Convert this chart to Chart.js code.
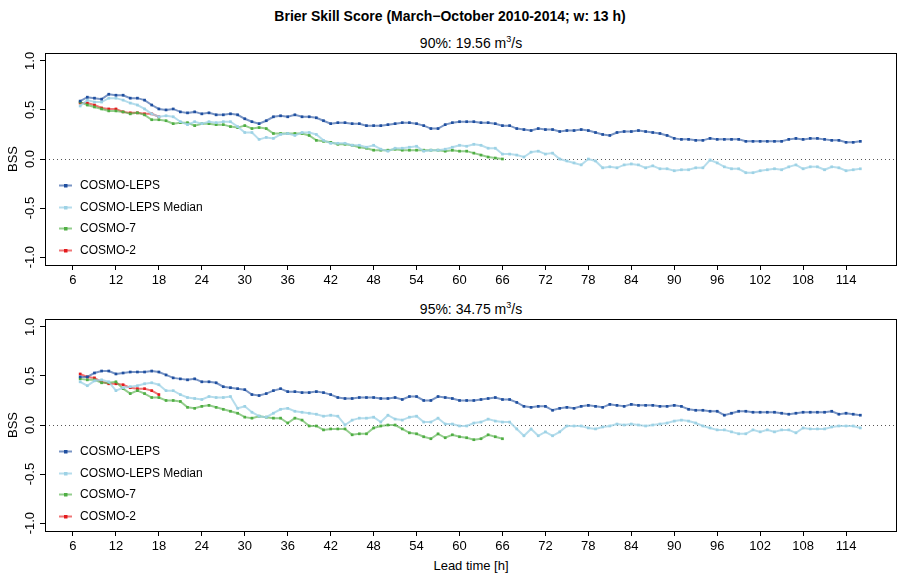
<!DOCTYPE html>
<html>
<head>
<meta charset="utf-8">
<script src="https://cdn.jsdelivr.net/npm/chart.js@4/dist/chart.umd.min.js"></script>
<style>
  body { margin: 0; width: 900px; height: 577px; background: #fff; position: relative; overflow: hidden;
         font-family: "Liberation Sans", Arial, sans-serif; color: #000; }
  .txt { position: absolute; text-align: center; white-space: nowrap; line-height: 16px; }
  .panel { position: absolute; left: 0; width: 900px; height: 245px; }
  sup { font-size: 9px; line-height: 0; }
</style>
</head>
<body>
<div class="txt" style="left:0;width:900px;top:8px;font-weight:bold;font-size:14px">Brier Skill Score (March−October 2010-2014; w: 13 h)</div>
<div class="txt" style="left:45px;width:852px;top:35px;font-size:14px">90%: 19.56 m<sup>3</sup>/s</div>
<div class="txt" style="left:45px;width:852px;top:301px;font-size:14px">95%: 34.75 m<sup>3</sup>/s</div>
<div class="txt" style="left:45px;width:852px;top:558px;font-size:13px">Lead time [h]</div>
<div class="panel" style="top:45px"><canvas id="c1" width="900" height="245"></canvas></div>
<div class="panel" style="top:311px"><canvas id="c2" width="900" height="245"></canvas></div>
<script>
// lead times in hours, one value per hour
const leadTimes = [7,8,9,10,11,12,13,14,15,16,17,18,19,20,21,22,23,24,25,26,27,28,29,30,31,32,
  33,34,35,36,37,38,39,40,41,42,43,44,45,46,47,48,49,50,51,52,53,54,55,56,57,58,59,60,61,
  62,63,64,65,66,67,68,69,70,71,72,73,74,75,76,77,78,79,80,81,82,83,84,85,86,87,88,89,90,
  91,92,93,94,95,96,97,98,99,100,101,102,103,104,105,106,107,108,109,110,111,112,113,114,115,116];
const xTicks = [6,12,18,24,30,36,42,48,54,60,66,72,78,84,90,96,102,108,114];
const yTicks = [-1, -0.5, 0, 0.5, 1];
const seriesNames = ['COSMO-LEPS', 'COSMO-LEPS Median', 'COSMO-7', 'COSMO-2'];

// 90% threshold
const leps90 = [0.59,0.63,0.62,0.61,0.66,0.65,0.65,0.62,0.62,0.60,0.55,0.51,0.50,0.51,0.48,0.47,0.48,0.46,0.47,0.45,0.45,0.46,0.45,0.41,0.38,0.36,
  0.39,0.43,0.44,0.43,0.45,0.43,0.43,0.42,0.39,0.36,0.37,0.37,0.36,0.36,0.34,0.34,0.34,0.35,0.36,0.37,0.37,0.36,0.34,0.31,0.31,0.35,0.37,0.38,0.38,
  0.38,0.37,0.37,0.36,0.34,0.34,0.31,0.30,0.29,0.31,0.30,0.30,0.28,0.29,0.29,0.30,0.29,0.27,0.25,0.24,0.27,0.28,0.28,0.29,0.28,0.27,0.26,0.24,0.21,
  0.20,0.20,0.19,0.19,0.21,0.20,0.20,0.20,0.20,0.18,0.18,0.18,0.18,0.18,0.18,0.20,0.21,0.20,0.21,0.21,0.20,0.19,0.19,0.17,0.17,0.18];
const median90 = [0.54,0.60,0.58,0.58,0.62,0.62,0.60,0.57,0.55,0.51,0.46,0.43,0.44,0.43,0.38,0.35,0.38,0.36,0.38,0.37,0.38,0.38,0.33,0.27,0.27,0.20,
  0.22,0.21,0.25,0.26,0.24,0.27,0.27,0.25,0.19,0.16,0.16,0.16,0.14,0.14,0.12,0.14,0.10,0.08,0.11,0.11,0.12,0.13,0.08,0.09,0.09,0.10,0.12,0.14,0.13,
  0.15,0.14,0.11,0.11,0.05,0.05,0.04,0.02,0.07,0.08,0.05,0.06,0.00,-0.02,-0.04,-0.06,0.00,-0.02,-0.09,-0.08,-0.09,-0.06,-0.05,-0.06,-0.09,-0.07,-0.10,-0.10,-0.12,
  -0.11,-0.11,-0.09,-0.09,-0.01,-0.04,-0.08,-0.10,-0.10,-0.14,-0.14,-0.12,-0.11,-0.10,-0.11,-0.08,-0.06,-0.10,-0.08,-0.08,-0.11,-0.08,-0.09,-0.12,-0.11,-0.10];
const cosmo7_90 = [0.58,0.55,0.53,0.51,0.49,0.49,0.48,0.46,0.47,0.45,0.40,0.40,0.39,0.36,0.37,0.37,0.34,0.36,0.36,0.35,0.35,0.33,0.32,0.34,0.31,0.32,
  0.31,0.26,0.26,0.26,0.26,0.26,0.24,0.19,0.18,0.17,0.15,0.15,0.14,0.12,0.11,0.09,0.09,0.09,0.10,0.09,0.09,0.09,0.09,0.09,0.09,0.08,0.09,0.08,0.08,
  0.06,0.04,0.02,0.01,0.00];
const cosmo2_90 = [0.57,0.57,0.55,0.52,0.51,0.51,0.48,0.47,0.47,0.46,0.46,0.43];

// 95% threshold
const leps95 = [0.49,0.49,0.53,0.55,0.55,0.52,0.53,0.54,0.54,0.54,0.55,0.54,0.51,0.48,0.47,0.46,0.47,0.44,0.44,0.43,0.39,0.38,0.37,0.36,0.31,0.30,
  0.32,0.35,0.37,0.34,0.34,0.33,0.33,0.34,0.33,0.31,0.28,0.27,0.27,0.28,0.28,0.28,0.27,0.27,0.28,0.26,0.29,0.29,0.25,0.25,0.29,0.28,0.27,0.25,0.25,
  0.25,0.26,0.27,0.28,0.26,0.26,0.23,0.19,0.18,0.19,0.19,0.15,0.17,0.18,0.17,0.19,0.20,0.19,0.18,0.21,0.20,0.19,0.21,0.20,0.20,0.20,0.19,0.19,0.20,
  0.19,0.16,0.15,0.15,0.14,0.14,0.10,0.12,0.14,0.14,0.13,0.13,0.13,0.13,0.12,0.11,0.12,0.13,0.13,0.13,0.13,0.14,0.11,0.12,0.11,0.10];
const median95 = [0.44,0.40,0.45,0.46,0.44,0.35,0.38,0.39,0.40,0.42,0.43,0.41,0.35,0.35,0.31,0.28,0.27,0.26,0.29,0.28,0.28,0.29,0.17,0.19,0.13,0.09,
  0.08,0.12,0.16,0.17,0.14,0.13,0.12,0.11,0.09,0.10,0.09,0.00,0.05,0.07,0.07,0.08,0.03,0.10,0.06,0.05,0.08,0.09,0.03,0.03,0.07,0.01,0.01,-0.01,-0.01,
  0.02,0.03,0.06,0.04,0.03,0.03,-0.04,-0.11,-0.04,-0.11,-0.07,-0.11,-0.07,-0.01,-0.01,-0.01,-0.03,-0.04,-0.02,-0.01,0.01,0.00,0.01,0.00,-0.01,0.00,0.01,0.02,0.04,
  0.05,0.04,0.02,-0.01,-0.03,-0.05,-0.05,-0.07,-0.09,-0.09,-0.05,-0.07,-0.05,-0.07,-0.05,-0.05,-0.08,-0.03,-0.04,-0.04,-0.04,-0.02,-0.01,-0.01,-0.01,-0.03];
const cosmo7_95 = [0.47,0.46,0.46,0.43,0.43,0.44,0.37,0.32,0.35,0.32,0.28,0.28,0.25,0.25,0.24,0.18,0.17,0.19,0.20,0.18,0.16,0.14,0.12,0.08,0.07,0.09,
  0.08,0.07,0.07,0.02,0.07,0.05,-0.01,-0.01,-0.05,-0.04,-0.04,-0.04,-0.10,-0.09,-0.09,-0.03,-0.01,0.00,0.00,-0.04,-0.08,-0.09,-0.12,-0.14,-0.09,-0.13,-0.10,-0.12,-0.13,
  -0.15,-0.14,-0.10,-0.12,-0.14];
const cosmo2_95 = [0.52,0.49,0.48,0.44,0.42,0.42,0.41,0.38,0.37,0.37,0.35,0.31];

// colours: solid for the points, lighter for the lines
const pointColors = ['#1f4f9f', '#9dd2e5', '#4fae43', '#e41a1c'];
const lineColors = ['rgba(31,79,159,0.6)', 'rgba(157,210,229,0.75)', 'rgba(79,174,67,0.6)', 'rgba(228,26,28,0.6)'];
const font = '13px "Liberation Sans", Arial, sans-serif';
const legendFont = '12px "Liberation Sans", Arial, sans-serif';

// box around the plot, dotted zero line, rotated y labels and the legend (R style)
const rStyle = {
  id: 'rStyle',
  beforeDatasetsDraw(chart) {
    const {ctx, chartArea: a, scales: {y}} = chart;
    const y0 = Math.round(y.getPixelForValue(0)) + 0.5;
    ctx.save();
    ctx.strokeStyle = '#555';
    ctx.lineWidth = 1;
    ctx.setLineDash([1, 3]);
    ctx.beginPath();
    ctx.moveTo(a.left, y0);
    ctx.lineTo(a.right, y0);
    ctx.stroke();
    ctx.restore();
  },
  afterDraw(chart) {
    const {ctx, chartArea: a, scales: {y}} = chart;
    ctx.save();
    ctx.strokeStyle = '#000';
    ctx.lineWidth = 1;
    ctx.strokeRect(a.left + 0.5, a.top + 0.5, a.right - a.left, a.bottom - a.top);

    ctx.fillStyle = '#000';
    ctx.font = font;
    ctx.textAlign = 'center';
    ctx.textBaseline = 'middle';
    y.ticks.forEach(t => {
      ctx.save();
      ctx.translate(30, y.getPixelForValue(t.value));
      ctx.rotate(-Math.PI / 2);
      ctx.fillText(t.value.toFixed(1), 0, 0);
      ctx.restore();
    });
    ctx.save();
    ctx.translate(13, (a.top + a.bottom) / 2);
    ctx.rotate(-Math.PI / 2);
    ctx.fillText('BSS', 0, 0);
    ctx.restore();

    // legend, bottom left inside the box
    ctx.textAlign = 'left';
    ctx.font = legendFont;
    chart.data.datasets.forEach((ds, i) => {
      const ly = Math.round(a.bottom - 80 + i * 21.7) + 0.5;
      ctx.strokeStyle = ds.borderColor;
      ctx.lineWidth = 2;
      ctx.beginPath();
      ctx.moveTo(a.left + 14, ly);
      ctx.lineTo(a.left + 27, ly);
      ctx.stroke();
      ctx.fillStyle = ds.pointBackgroundColor;
      ctx.fillRect(a.left + 19, ly - 1.5, 3.5, 3.5);
      ctx.fillStyle = '#000';
      ctx.fillText(ds.label, a.left + 35, ly);
    });
    ctx.restore();
  }
};

function makePanel(id, series) {
  const datasets = series.map((vals, i) => ({
    label: seriesNames[i],
    data: vals.map((v, k) => ({x: leadTimes[k], y: v})),
    borderColor: lineColors[i],
    borderWidth: 2,
    pointStyle: 'rect',
    pointRadius: 1.9,
    pointBorderWidth: 0,
    pointBackgroundColor: pointColors[i],
    tension: 0
  }));
  return new Chart(document.getElementById(id), {
    type: 'line',
    data: {datasets},
    options: {
      responsive: false,
      animation: false,
      devicePixelRatio: 1,
      layout: {padding: {top: 8, right: 3, left: 0, bottom: 0}},
      plugins: {legend: {display: false}, tooltip: {enabled: false}},
      scales: {
        x: {
          type: 'linear', min: 2.09, max: 120.98,
          afterBuildTicks: s => { s.ticks = xTicks.map(v => ({value: v})); },
          afterFit: s => { s.height = 25; },
          grid: {drawOnChartArea: false, drawTicks: true, tickLength: 5, tickColor: '#000'},
          border: {display: false},
          ticks: {color: '#000', font: {family: '"Liberation Sans", Arial, sans-serif', size: 13}, padding: 3, maxRotation: 0, autoSkip: false}
        },
        y: {
          min: -1.08, max: 1.08,
          afterBuildTicks: s => { s.ticks = yTicks.map(v => ({value: v})); },
          afterFit: s => { s.width = 45; },
          grid: {drawOnChartArea: false, drawTicks: true, tickLength: 5, tickColor: '#000'},
          border: {display: false},
          ticks: {display: false}
        }
      }
    },
    plugins: [rStyle]
  });
}

makePanel('c1', [leps90, median90, cosmo7_90, cosmo2_90]);
makePanel('c2', [leps95, median95, cosmo7_95, cosmo2_95]);
</script>
</body>
</html>
